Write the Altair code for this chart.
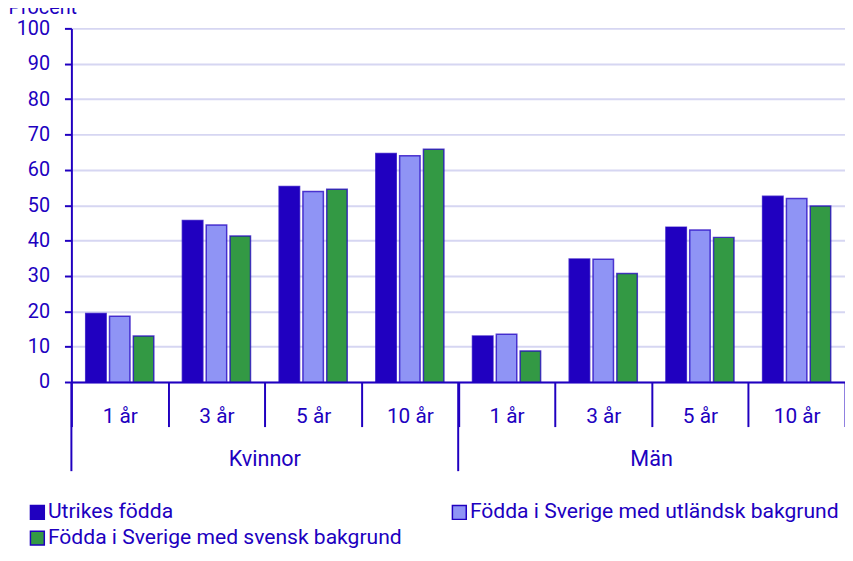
import altair as alt
import pandas as pd

groups = ["Kvinnor", "Män"]
group_keys = ["K", "M"]
durations = ["1 år", "3 år", "5 år", "10 år"]
series = [
    "Utrikes födda",
    "Födda i Sverige med utländsk bakgrund",
    "Födda i Sverige med svensk bakgrund",
]
colors = ["#2000C0", "#8F94F5", "#339944"]

# values per series, order: Kvinnor 1,3,5,10 år then Män 1,3,5,10 år
utrikes = [19.4, 45.7, 55.3, 64.6, 13.0, 34.8, 43.8, 52.5]
utlandsk = [18.6, 44.4, 53.9, 64.0, 13.5, 34.7, 43.0, 51.9]
svensk = [13.0, 41.3, 54.5, 65.8, 8.8, 30.7, 40.9, 49.8]

text_color = "#2000C0"
font = "Roboto"

positions = [f"{g}|{d}" for g in group_keys for d in durations]

rows = []
for s, vals in zip(series, [utrikes, utlandsk, svensk]):
    for p, v in zip(positions, vals):
        rows.append({"pos": p, "series": s, "value": v})
df = pd.DataFrame(rows)

sep_df = pd.DataFrame({"pos": [f"{k}|{durations[0]}" for k in group_keys]})
lab_df = pd.DataFrame({"pos": [f"{k}|{durations[2]}" for k in group_keys], "label": groups})

# legend fills column by column: put entries so rows read as in the reference
legend_order = [series[0], series[2], series[1]]
legend_colors = [colors[0], colors[2], colors[1]]

W = 781
H = 357
x_scale = alt.Scale(domain=positions, paddingInner=0, paddingOuter=0)

bars = alt.Chart(df).mark_bar(
    stroke="#2000C0", strokeOpacity=0.75, strokeWidth=1.5
).encode(
    x=alt.X(
        "pos:N",
        scale=x_scale,
        sort=positions,
        axis=alt.Axis(
            title=None,
            labelExpr="split(datum.value, '|')[1]",
            labelAngle=0,
            tickBand="extent",
            tickSize=45,
            labelPadding=-10,
            labelBaseline="middle",
            domainColor=text_color,
            domainWidth=2,
            tickColor=text_color,
            tickWidth=2,
            labelColor=text_color,
            labelFontSize=21,
            labelFont=font,
            grid=False,
        ),
    ),
    xOffset=alt.XOffset(
        "series:N", sort=series,
        scale=alt.Scale(domain=series, paddingInner=0.14, paddingOuter=0.6),
    ),
    y=alt.Y(
        "value:Q",
        scale=alt.Scale(domain=[0, 100], nice=False),
        axis=alt.Axis(
            values=list(range(0, 101, 10)),
            title="Procent",
            titleAngle=0,
            titleAlign="left",
            titleBaseline="alphabetic",
            titleX=-64,
            titleY=-15,
            titleColor=text_color,
            titleFont=font,
            titleFontSize=20,
            titleFontWeight="normal",
            domainColor=text_color,
            domainWidth=2,
            tickColor=text_color,
            tickWidth=2,
            tickSize=7,
            labelPadding=15,
            labelColor=text_color,
            labelFontSize=20,
            labelFont=font,
            gridColor="#D6D6F2",
            gridWidth=2,
        ),
    ),
    color=alt.Color(
        "series:N",
        scale=alt.Scale(domain=legend_order, range=legend_colors),
        legend=alt.Legend(
            title=None,
            orient="none",
            legendX=-45,
            legendY=478,
            columns=2,
            columnPadding=47,
            rowPadding=4,
            symbolType="square",
            symbolSize=196,
            symbolStrokeColor="#2000C0",
            symbolStrokeWidth=1.5,
            labelOffset=0,
            labelFontSize=21.3,
            labelFont=font,
            labelColor=text_color,
            labelLimit=0,
        ),
    ),
)

seps = alt.Chart(sep_df).mark_rule(color=text_color, strokeWidth=2).encode(
    x=alt.X("pos:N", scale=x_scale, sort=positions, bandPosition=0),
    y=alt.value(H),
    y2=alt.value(H + 90),
)

glabels = alt.Chart(lab_df).mark_text(
    color=text_color, fontSize=21.8, font=font, baseline="middle", align="center"
).encode(
    x=alt.X("pos:N", scale=x_scale, sort=positions, bandPosition=0),
    y=alt.value(H + 78),
    text="label:N",
)

chart = alt.layer(bars, seps, glabels).properties(
    width=W,
    height=H,
    autosize=alt.AutoSizeParams(type="none"),
    padding={"left": 64, "top": 18, "right": 0, "bottom": 165},
).configure_view(stroke=None)

chart.save("out.html", embed_options={"renderer": "svg", "actions": False})
